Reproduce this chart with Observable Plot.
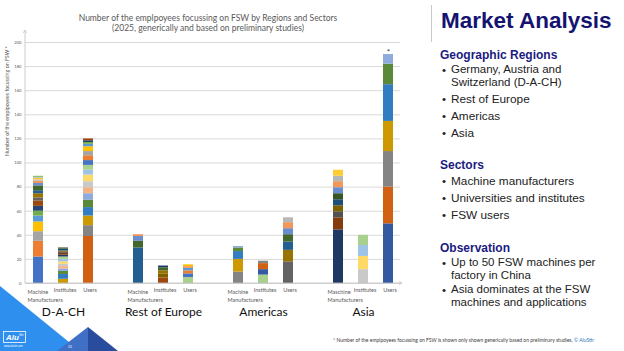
<!DOCTYPE html>
<html><head><meta charset="utf-8">
<script src="https://cdn.jsdelivr.net/npm/d3@7"></script>
<script src="https://cdn.jsdelivr.net/npm/@observablehq/plot@0.6"></script>
<style>
html,body{margin:0;padding:0;background:#fff;}
#page{position:relative;width:624px;height:351px;overflow:hidden;font-family:"Liberation Sans",Arial,sans-serif;}
#chart{position:absolute;left:0;top:0;}
.ct{position:absolute;left:0;width:416px;text-align:center;font:8.5px Lato,sans-serif;color:#595959;line-height:1;white-space:nowrap;}
.t{position:absolute;white-space:nowrap;line-height:10.5px;font-size:11.8px;color:#222;}
.t2{position:absolute;white-space:nowrap;line-height:13px;font-size:11.5px;color:#222;}
.h{position:absolute;white-space:nowrap;line-height:1;font-size:12px;font-weight:bold;color:#1B1B80;left:440px;}
.b{position:absolute;left:442px;line-height:10.5px;font-size:11.5px;color:#222;}
#foot{position:absolute;left:333px;top:338px;font:5px Lato,sans-serif;color:#404040;white-space:nowrap;line-height:1;}
#deco{position:absolute;left:0;top:0;}
</style></head><body><div id="page">
<svg id="deco" width="624" height="351">
  <polygon points="0,286 0,351 80,351" fill="#2F8FEF"/>
  <polygon points="57,351 88,327 88,351" fill="#4070C6"/>
  <polygon points="88,327 118,351 88,351" fill="#2A4C9C"/>
  <rect x="3.5" y="331.5" width="22" height="11" fill="none" stroke="#fff" stroke-width="0.8"/>
  <text x="6" y="340" fill="#fff" font-family="Liberation Sans" font-style="italic" font-weight="bold" font-size="8">Alu</text>
  <text x="19" y="335.5" fill="#fff" font-family="Liberation Sans" font-size="3">Stir</text>
  <text x="4" y="347" fill="#fff" font-family="Liberation Sans" font-size="2.6">www.alustir.com</text>
  <text x="68" y="348" fill="#fff" font-family="Liberation Sans" font-size="3.5">15</text>
</svg>
<div id="chart"></div>
<div class="ct" style="top:13.5px">Number of the emplpoyees focussing on FSW by Regions and Sectors</div>
<div class="ct" style="top:24px">(2025, generically and based on preliminary studies)</div>
<div style="position:absolute;left:431px;top:5px;width:1px;height:37px;background:#C8C8C8"></div>
<div style="position:absolute;left:441px;top:10px;font-size:22.5px;font-weight:bold;color:#141470;line-height:1;white-space:nowrap;">Market Analysis</div>
<div class="h" style="top:49px">Geographic Regions</div>
<div class="b" style="top:64.7px">•</div><div class="t2" style="left:451px;top:63.4px">Germany, Austria and<br>Switzerland (D-A-CH)</div>
<div class="b" style="top:94px">•</div><div class="t" style="left:451px;top:94px">Rest of Europe</div>
<div class="b" style="top:111px">•</div><div class="t" style="left:451px;top:111px">Americas</div>
<div class="b" style="top:128px">•</div><div class="t" style="left:451px;top:128px">Asia</div>
<div class="h" style="top:159px">Sectors</div>
<div class="b" style="top:176px">•</div><div class="t" style="left:451px;top:176px">Machine manufacturers</div>
<div class="b" style="top:193px">•</div><div class="t" style="left:451px;top:193px">Universities and institutes</div>
<div class="b" style="top:210px">•</div><div class="t" style="left:451px;top:210px">FSW users</div>
<div class="h" style="top:242px">Observation</div>
<div class="b" style="top:257.7px">•</div><div class="t2" style="left:451px;top:256.4px">Up to 50 FSW machines per<br>factory in China</div>
<div class="b" style="top:284.7px">•</div><div class="t2" style="left:451px;top:283.4px">Asia dominates at the FSW<br>machines and applications</div>
<div id="foot">* Number of the emplpoyees focussing on FSW is shown only shown generically based on preliminary studies, <span style="color:#2E75B6">© AluStir</span></div>
</div>
<script>
// ---- data ----
const regions = ["D-A-CH", "Rest of Europe", "Americas", "Asia"];
const sectors = ["Machine", "Institutes", "Users"];
const machineLabels = ["Machine\nManufacturers", "Machine\nManufacturers", "Machine\nManufacturers", "Maschine\nManufacturers"];
const otherLabels = ["Institutes", "Users"];
const yTicks = [0, 20, 40, 60, 80, 100, 120, 140, 160, 180, 200];
const yLabel = "Number of the emplpoyees focussing on FSW *";

const dachMachine = [22, 13, 8, 8, 5, 4, 4, 4.5, 2.5, 3.5, 2.5, 4, 2, 2, 1, 1.5, 0.5, 1];
const dachMachineSeries = [0, 1, 2, 3, 4, 5, 6, 7, 8, 9, 10, 11, 12, 13, 14, 15, 16, 17];
const dachInstitutes = [3.5, 4, 2.5, 2, 2, 2, 2, 2, 2, 1.5, 1.5, 1, 1, 1.5, 1];
const dachInstitutesSeries = [21, 22, 23, 24, 25, 26, 27, 28, 29, 30, 31, 32, 33, 34, 35];
const dachUsers = [39, 9, 8, 7, 6, 5.5, 5, 5, 5.5, 4, 4, 4, 4, 3.5, 4, 2, 1.5, 1.5, 1.5];
const dachUsersSeries = [19, 20, 21, 22, 23, 24, 25, 26, 27, 28, 29, 0, 1, 2, 3, 4, 5, 6, 7];

const roeMachine = [29.5, 5.5, 4, 1.5];
const roeMachineSeries = [10, 11, 12, 13];
const roeInstitutes = [4.5, 3.5, 2.5, 2.5, 1.5];
const roeInstitutesSeries = [7, 33, 9, 11, 30];
const roeUsers = [5, 3, 2.5, 2, 1.5, 1.5];
const roeUsersSeries = [29, 0, 1, 4, 13, 3];

const amMachine = [9.5, 10.5, 6.5, 3, 1.2];
const amMachineSeries = [20, 21, 22, 23, 24];
const amInstitutes = [7, 4.5, 5, 2];
const amInstitutesSeries = [29, 18, 19, 20];
const amUsers = [18, 9.5, 7, 6, 5, 5, 4];
const amUsersSeries = [8, 9, 10, 11, 12, 13, 14];

const asiaMachine = [44.5, 10, 5, 5, 5, 5, 5, 5, 4.5, 5];
const asiaMachineSeries = [30, 31, 32, 33, 34, 35, 12, 13, 14, 15];
const asiaInstitutes = [11.5, 11, 9, 8.5];
const asiaInstitutesSeries = [26, 27, 28, 29];
const asiaUsers = [49.5, 30.5, 29.5, 25, 30.5, 17, 8];
const asiaUsersSeries = [18, 19, 20, 21, 22, 23, 24];

// ---- styling ----
const palette = ["#4472C4","#ED7D31","#A5A5A5","#FFC000","#5B9BD5","#70AD47",
 "#264478","#9E480E","#636363","#997300","#255E91","#43682B",
 "#698ED0","#F1975A","#B7B7B7","#FFCD33","#7CAFDD","#8CC168",
 "#335AA1","#D26012","#848484","#CC9A00","#327DC2","#5A8A39",
 "#8FAADC","#F4B183","#C9C9C9","#FFD966","#9DC3E6","#A9D18E",
 "#203864","#843C0C","#525252","#7F6000","#1F4E79","#385723"];

const barData = [
  [[dachMachine, dachMachineSeries], [dachInstitutes, dachInstitutesSeries], [dachUsers, dachUsersSeries]],
  [[roeMachine, roeMachineSeries], [roeInstitutes, roeInstitutesSeries], [roeUsers, roeUsersSeries]],
  [[amMachine, amMachineSeries], [amInstitutes, amInstitutesSeries], [amUsers, amUsersSeries]],
  [[asiaMachine, asiaMachineSeries], [asiaInstitutes, asiaInstitutesSeries], [asiaUsers, asiaUsersSeries]]
];

const key = (r, s) => regions[r] + "|" + sectors[s];
const domain = [];
regions.forEach((r, i) => {
  sectors.forEach((s, j) => domain.push(key(i, j)));
  if (i < regions.length - 1) domain.push("gap" + i);
});

const rows = [];
barData.forEach((reg, i) => reg.forEach(([vals, ser], j) => {
  vals.forEach((v, k) => rows.push({key: key(i, j), value: v, color: palette[ser[k] % palette.length]}));
}));

const machineRows = regions.map((r, i) => ({key: key(i, 0), text: machineLabels[i]}));
const otherRows = [];
regions.forEach((r, i) => otherLabels.forEach((t, j) => otherRows.push({key: key(i, j + 1), text: t})));
const regionRows = regions.map((r, i) => ({key: key(i, 1), text: r}));
const asiaTotal = d3.sum(asiaUsers);

const chart = Plot.plot({
  width: 420, height: 351,
  marginLeft: 25, marginRight: 20, marginTop: 42, marginBottom: 68,
  style: {fontFamily: "Lato, sans-serif", background: "transparent", overflow: "visible"},
  x: {domain, paddingInner: 0.6, paddingOuter: 0.3, axis: null},
  y: {domain: [0, 200], axis: null},
  color: {type: "identity"},
  marks: [
    Plot.gridY(yTicks, {stroke: "#D9D9D9", strokeOpacity: 1}),
    Plot.axisY(yTicks, {tickSize: 0, tickPadding: 4, fontSize: 4.2, fill: "#595959", label: null}),
    Plot.text([yLabel], {frameAnchor: "left", rotate: -90, dx: -18, dy: -7, fontSize: 5.3, fill: "#595959", text: d => d}),
    Plot.barY(rows, {x: "key", y: "value", fill: "color"}),
    Plot.text([asiaTotal], {x: () => key(3, 2), y: d => d, text: () => "*", lineAnchor: "bottom", dy: 0, fontSize: 8, fill: "#333"}),
    Plot.text(machineRows, {x: "key", y: 0, text: "text", textAnchor: "start", dx: -11, dy: 5, lineAnchor: "top", lineHeight: 1.45, fontSize: 5.5, fill: "#595959"}),
    Plot.text(otherRows, {x: "key", y: 0, text: "text", textAnchor: "middle", dx: 1.5, dy: 5, lineAnchor: "top", fontSize: 5.5, fill: "#595959"}),
    Plot.text(regionRows, {x: "key", y: 0, text: "text", textAnchor: "middle", dy: 29, lineAnchor: "middle", fontSize: 12, fill: "#111"})
  ]
});
document.getElementById("chart").appendChild(chart);

// axis lines with arrowheads, positioned from the scales
const xs = chart.scale("x"), ys = chart.scale("y");
const svg = d3.select(chart);
const defs = svg.append("defs");
defs.append("marker").attr("id", "arr").attr("viewBox", "0 0 6 6").attr("refX", 5).attr("refY", 3)
  .attr("markerWidth", 6).attr("markerHeight", 6).attr("orient", "auto")
  .append("path").attr("d", "M1,0.5 L5,3 L1,5.5").attr("fill", "none").attr("stroke", "#BFBFBF").attr("stroke-width", 0.8);
const x0 = xs.range[0], x1 = xs.range[1];
const yb = ys.range[0], yt = ys.range[1];
svg.append("line").attr("x1", x0).attr("y1", yb).attr("x2", x0).attr("y2", yt - 12)
  .attr("stroke", "#BFBFBF").attr("stroke-width", 0.8).attr("marker-end", "url(#arr)");
svg.append("line").attr("x1", x0).attr("y1", yb).attr("x2", x1 + 2).attr("y2", yb)
  .attr("stroke", "#BFBFBF").attr("stroke-width", 0.8).attr("marker-end", "url(#arr)");
</script>
</body></html>
